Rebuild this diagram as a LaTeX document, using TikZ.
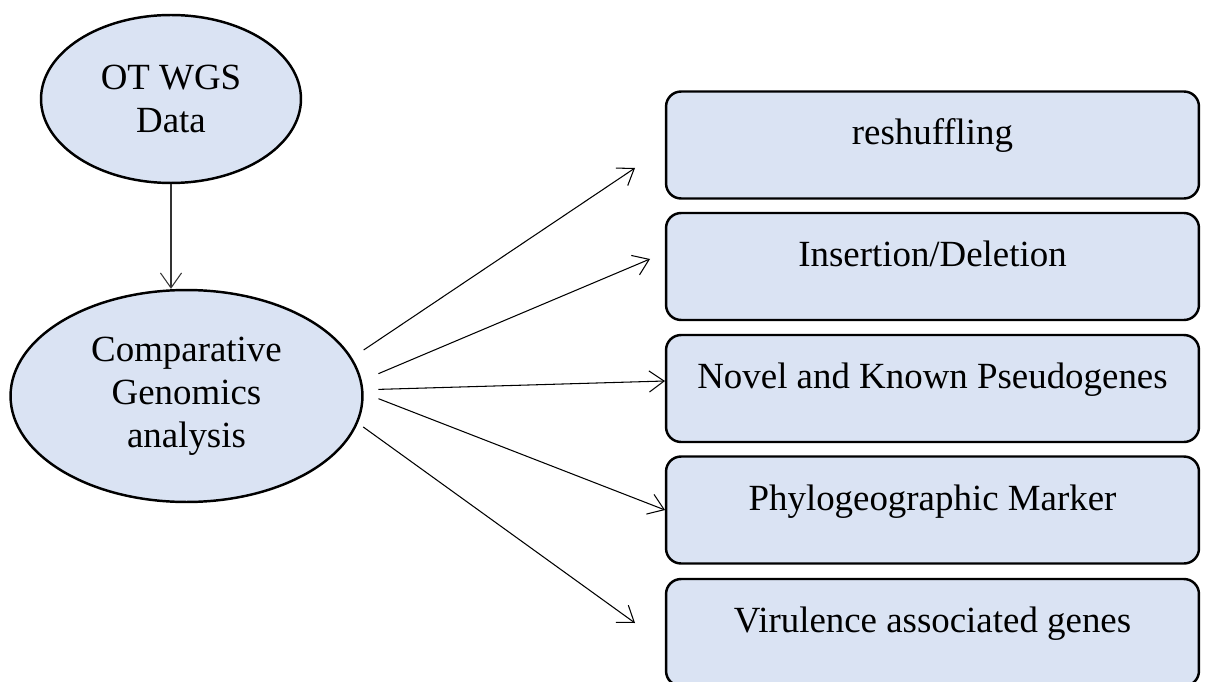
\documentclass[tikz,border=0pt]{standalone}
\usepackage{fontspec}
\setmainfont{Liberation Serif}
\usetikzlibrary{shapes.geometric,arrows.meta}
\definecolor{paleblue}{HTML}{DAE3F3}
\begin{document}
\begin{tikzpicture}[x=0.02cm,y=-0.02cm,
    every node/.style={font=\fontsize{21}{24.5}\selectfont},
    blob/.style={ellipse,draw,fill=paleblue,line width=1.4pt,inner sep=0pt,align=center},
    result/.style={draw,fill=paleblue,line width=1.4pt,rounded corners=0.3cm,
      minimum width=10.66cm,minimum height=2.14cm,text height=0.5cm,text depth=0.5cm},
    arr/.style={-{Straight Barb[length=8.5pt,width=12pt]},line width=0.6pt}]
      \clip (0,0) rectangle (1209,682);
      \draw
        (171,99) node[blob,minimum width=5.2cm,minimum height=3.36cm] (wgs){OT WGS\\Data}
        (186.5,396) node[blob,minimum width=7.04cm,minimum height=4.24cm] (cga){Comparative\\Genomics\\analysis}
        (932.5,145) node[result] (b1){reshuffling}
        (932.5,266.5) node[result] (b2){Insertion/Deletion}
        (932.5,388.5) node[result] (b3){Novel and Known Pseudogenes}
        (932.5,510) node[result] (b4){Phylogeographic Marker}
        (932.5,632.5) node[result] (b5){Virulence associated genes};
      \coordinate (t1) at (635,168);
      \coordinate (t2) at (650,259);
      \coordinate (t3) at (665,381);
      \coordinate (t4) at (665,510);
      \coordinate (t5) at (635,623);
      \begin{scope}[arr]
        \draw[draw=black!80] (wgs) to (wgs |- cga.north);
        \draw[shorten <=0.28cm] (cga.13.1) to (t1);
        \draw[shorten <=0.36cm] (cga.5.3) to (t2);
        \draw[shorten <=0.30cm] (cga.2.5) to (t3);
        \draw[shorten <=0.32cm] (cga.1.6) to (t4);
        \draw[shorten <=0.13cm] (cga.-9.1) to (t5);
      \end{scope}
    \end{tikzpicture}
\end{document}
